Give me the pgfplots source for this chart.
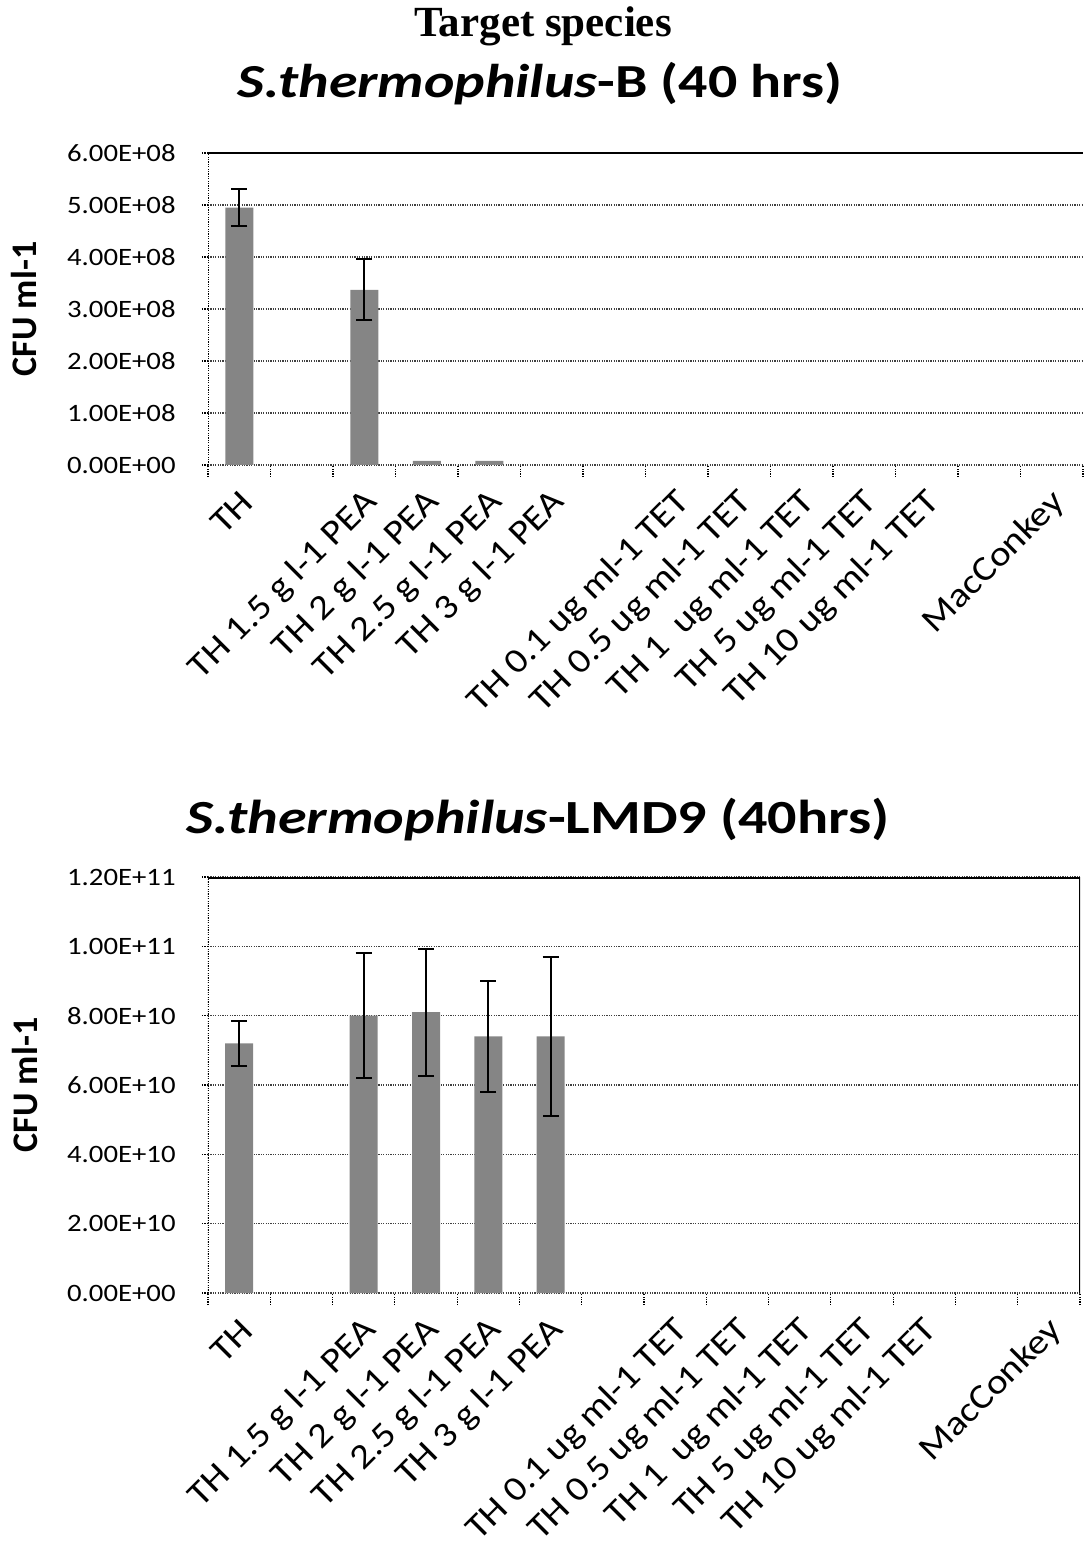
\documentclass[border=0pt]{standalone}
\usepackage{fontspec}
\setmainfont{Carlito}
\newfontfamily\tickfont[FakeStretch=1.15]{Carlito}
\newfontfamily\labfont[FakeStretch=1.12]{Carlito}
\newfontfamily\titlefont[FakeStretch=1.22]{Carlito}
\newfontfamily\serifbold{Liberation Serif}
\usepackage{pgfplots}
\pgfplotsset{compat=1.18}

\pgfplotsset{
  cfu/.style={
    scale only axis,
    xmin=-0.5, xmax=13.5,
    xtick={0,...,13},
    xticklabels={TH,,TH 1.5 g l-1 PEA,TH 2 g l-1 PEA,TH 2.5 g l-1 PEA,TH 3 g l-1 PEA,,TH 0.1 ug ml-1 TET,TH 0.5 ug ml-1 TET,TH 1\ \ ug ml-1 TET,TH 5 ug ml-1 TET,TH 10 ug ml-1 TET,,MacConkey},
    minor xtick={-0.5,0.5,...,13.5},
    xtick pos=bottom, ytick pos=left,
    tick align=outside,
    major tick length=3pt,
    minor tick length=6pt,
    major x tick style={draw=none},
    minor x tick style={black, line width=0.6pt, dash pattern=on 0.6pt off 0.6pt},
    major y tick style={black, line width=0.6pt, dash pattern=on 0.6pt off 0.6pt},
    ymin=0,
    ymajorgrids,
    grid style={black!75, line width=0.6pt, dash pattern=on 0.6pt off 0.6pt},
    axis line style={draw=none},
    scaled y ticks=false,
    xticklabel style={font=\labfont\fontsize{17.5}{17.5}\selectfont, inner sep=0pt,
      xshift=4pt, yshift=-13pt, rotate=45, anchor=east},
    yticklabel style={font=\tickfont\fontsize{12.5}{12.5}\selectfont, inner sep=0pt, xshift=-13pt},
    ylabel={CFU ml-1},
    ylabel style={font=\bfseries\fontsize{18}{18}\selectfont,
      at={(axis description cs:-0.21,0.5)}, anchor=center},
  },
  cfubar/.style={ybar, bar width=14pt, bar shift=0pt, fill=black!48, draw=none},
  cfuerr/.style={error bars/.cd, y dir=both, y explicit,
    error bar style={line width=1pt, black},
    error mark options={rotate=90, mark size=4pt, line width=1pt, black}},
}

\begin{document}
\begin{tikzpicture}
\path[use as bounding box] (-104pt,-540pt) rectangle (437.5pt,232.5pt);

% S. thermophilus-B
\begin{axis}[cfu, width=437.5pt, height=156pt, ymax=6e8,
  ytick={0,1e8,2e8,3e8,4e8,5e8,6e8},
  yticklabels={0.00E+00,1.00E+08,2.00E+08,3.00E+08,4.00E+08,5.00E+08,6.00E+08}]
\addplot[cfubar, cfuerr] coordinates {(0,4.95e8) +- (0,0.35e8) (2,3.37e8) +- (0,0.59e8)};
\addplot[cfubar] coordinates {(3,8e6) (4,8e6) (7,0) (8,0) (9,0) (10,0) (11,0) (13,0)};
\draw[line width=1.5pt] (rel axis cs:0,1) -- (rel axis cs:1,1);
\draw[line width=0.6pt, dash pattern=on 0.6pt off 0.6pt] (rel axis cs:0,0) -- (rel axis cs:0,1);
\end{axis}

% S. thermophilus-LMD9
\begin{axis}[cfu, at={(0pt,-414pt)}, anchor=south west, width=436pt, height=208pt, ymax=1.2e11,
  ytick={0,2e10,4e10,6e10,8e10,1e11,1.2e11},
  yticklabels={0.00E+00,2.00E+10,4.00E+10,6.00E+10,8.00E+10,1.00E+11,1.20E+11}]
\addplot[cfubar, cfuerr] coordinates {(0,7.2e10) +- (0,0.65e10) (2,8.0e10) +- (0,1.8e10)
  (3,8.1e10) +- (0,1.83e10) (4,7.4e10) +- (0,1.6e10) (5,7.4e10) +- (0,2.3e10)};
\addplot[cfubar] coordinates {(7,0) (8,0) (9,0) (10,0) (11,0) (13,0)};
\draw[line width=1.5pt] (rel axis cs:0,1) -- (rel axis cs:1,1);
\draw[line width=1pt] (rel axis cs:1,0) -- (rel axis cs:1,1);
\draw[line width=0.6pt, dash pattern=on 0.6pt off 0.6pt] (rel axis cs:0,0) -- (rel axis cs:0,1);
\end{axis}

\node[anchor=base, font=\serifbold\bfseries\fontsize{21.5}{21.5}\selectfont] at (167.5pt,214pt) {Target species};
\node[anchor=base, font=\titlefont\bfseries\fontsize{23.7}{23.7}\selectfont] at (166pt,183.5pt) {\textit{S.thermophilus}-B (40 hrs)};
\node[anchor=base, font=\titlefont\bfseries\fontsize{23.8}{23.8}\selectfont] at (165pt,-184pt) {\textit{S.thermophilus}-LMD9 (40hrs)};
\end{tikzpicture}
\end{document}
